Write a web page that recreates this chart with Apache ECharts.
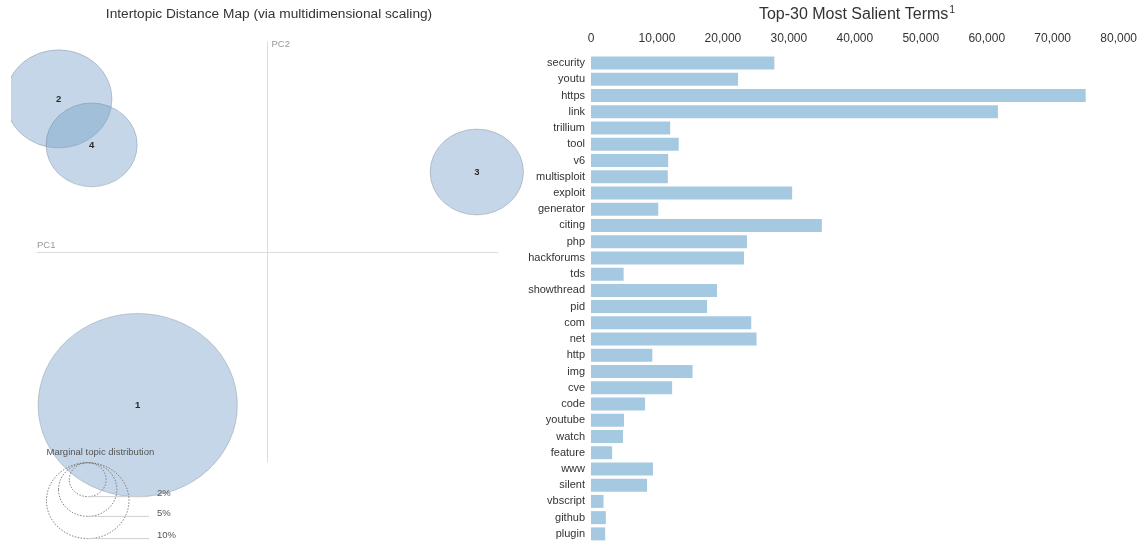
<!DOCTYPE html>
<html><head><meta charset="utf-8">
<script src="https://cdn.jsdelivr.net/npm/echarts@6/dist/echarts.min.js"></script>
<style>html,body{margin:0;padding:0;background:#fff}#c{width:1140px;height:544px}</style>
</head><body><div id="c"></div>
<script>
// ---- Intertopic distance map data ----
const topicIds = ['1', '2', '3', '4'];
const topicPC1 = [-0.563, -0.906, 0.908, -0.763];
const topicPC2 = [-0.729, 0.729, 0.381, 0.510];
const topicShare = [58.3, 16.7, 12.8, 12.2];          // marginal topic distribution (%)
const legendShares = [2, 5, 10];
const legendLabels = ['2%', '5%', '10%'];

// ---- Top-30 most salient terms ----
const terms = ['security','youtu','https','link','trillium','tool','v6','multisploit','exploit','generator',
  'citing','php','hackforums','tds','showthread','pid','com','net','http','img',
  'cve','code','youtube','watch','feature','www','silent','vbscript','github','plugin'];
const termFreq = [27800,22300,75000,61700,12000,13300,11700,11650,30500,10200,
  35000,23650,23200,4950,19100,17600,24300,25100,9300,15400,
  12300,8200,5000,4850,3200,9400,8500,1900,2250,2150];
const freqTicks = [0, 10000, 20000, 30000, 40000, 50000, 60000, 70000, 80000];

const FONT = '"Liberation Sans", Arial, sans-serif';
const RY = 12, RX = 13.05; // px per sqrt(percent)
const ellipsePath = 'path://M0,50 A50,50 0 1,1 100,50 A50,50 0 1,1 0,50 Z';

const chart = echarts.init(document.getElementById('c'), null, {renderer: 'canvas'});

// legend of circle sizes
const legCx = 87.7, legTop = 462.7, lineEnd = 149, labelX = 157;
const graphics = [
  // left edge of the map panel (clips the outermost circle as in the original view)
  {type: 'rect', z: 50, silent: true, shape: {x: 0, y: 30, width: 11, height: 140}, style: {fill: '#fff'}},
  {type: 'text', left: 46.5, top: 447, z: 100,
   style: {text: 'Marginal topic distribution', fontSize: 9.5, fontFamily: FONT, fill: '#555'}}
];
legendShares.forEach((p, i) => {
  const ry = RY * Math.sqrt(p), rx = RX * Math.sqrt(p);
  const bottom = legTop + 2 * ry;
  graphics.push({
    type: 'ellipse', z: 100, silent: true,
    shape: {cx: legCx, cy: legTop + ry, rx: rx, ry: ry},
    style: {fill: 'none', stroke: '#777', lineWidth: 0.9, lineDash: [1.5, 1.5]}
  });
  graphics.push({
    type: 'line', z: 100, silent: true,
    shape: {x1: legCx, y1: bottom, x2: lineEnd, y2: bottom},
    style: {stroke: '#cfcfcf', lineWidth: 1}
  });
  graphics.push({
    type: 'text', z: 100, x: labelX, y: bottom - 3,
    style: {text: legendLabels[i], fontSize: 9.5, fontFamily: FONT, fill: '#555', verticalAlign: 'middle'}
  });
});

chart.setOption({
  animation: false,
  backgroundColor: '#fff',
  textStyle: {fontFamily: FONT},
  title: [
    {text: 'Intertopic Distance Map (via multidimensional scaling)', left: 269, textAlign: 'center',
     top: 7, padding: 0, textStyle: {fontSize: 13.7, fontWeight: 'normal', color: '#333', fontFamily: FONT}},
    {text: '{t|Top-30 Most Salient Terms}{s|1}', left: 857, textAlign: 'center', top: 5, padding: 0,
     textStyle: {fontWeight: 'normal', rich: {
       t: {fontSize: 16, color: '#333', fontFamily: FONT, fontWeight: 'normal'},
       s: {fontSize: 10.5, color: '#333', fontFamily: FONT, fontWeight: 'normal', padding: [0, 0, 9, 1]}
     }}}
  ],
  grid: [
    {left: 37, top: 42, width: 461, height: 420},
    {left: 591, top: 55, width: 529, height: 487}
  ],
  xAxis: [
    {type: 'value', gridIndex: 0, min: -1, max: 1,
     axisLine: {show: true, onZero: true, lineStyle: {color: '#dcdcdc', width: 1}},
     axisTick: {show: false}, axisLabel: {show: false}, splitLine: {show: false},
     name: 'PC1', nameLocation: 'start', nameGap: 0,
     nameTextStyle: {align: 'left', verticalAlign: 'bottom', padding: [0, 0, 2, 0], fontSize: 9.5, color: '#999'}},
    {type: 'value', gridIndex: 1, position: 'top', min: 0, max: 80000, interval: 10000,
     axisLine: {show: false}, axisTick: {show: false}, splitLine: {show: false},
     axisLabel: {fontSize: 12, color: '#333', margin: 10,
       formatter: v => freqTicks.includes(v) ? v.toLocaleString('en-US') : ''}}
  ],
  yAxis: [
    {type: 'value', gridIndex: 0, min: -1, max: 1,
     axisLine: {show: true, onZero: true, lineStyle: {color: '#dcdcdc', width: 1}},
     axisTick: {show: false}, axisLabel: {show: false}, splitLine: {show: false},
     name: 'PC2', nameLocation: 'end', nameGap: -2,
     nameTextStyle: {align: 'left', verticalAlign: 'middle', padding: [0, 0, 0, 4], fontSize: 9.5, color: '#999'}},
    {type: 'category', gridIndex: 1, inverse: true, data: terms,
     axisLine: {show: false}, axisTick: {show: false},
     axisLabel: {fontSize: 11, color: '#333', margin: 6}}
  ],
  series: [
    {type: 'scatter', xAxisIndex: 0, yAxisIndex: 0, clip: false,
     symbol: ellipsePath,
     data: topicIds.map((id, i) => [topicPC1[i], topicPC2[i], topicShare[i], id]),
     symbolSize: v => [2 * RX * Math.sqrt(v[2]), 2 * RY * Math.sqrt(v[2])],
     itemStyle: {color: 'rgba(118,160,200,0.43)', borderColor: 'rgba(80,95,110,0.35)', borderWidth: 0.8, opacity: 1},
     label: {show: true, position: 'inside', formatter: p => p.value[3],
       fontSize: 9.5, fontWeight: 'bold', color: '#2a2a2a'},
     emphasis: {disabled: true}},
    {type: 'bar', xAxisIndex: 1, yAxisIndex: 1, data: termFreq,
     barCategoryGap: '20%',
     itemStyle: {color: 'rgba(31,119,180,0.4)'},
     emphasis: {disabled: true}}
  ],
  graphic: graphics
});
</script></body></html>
